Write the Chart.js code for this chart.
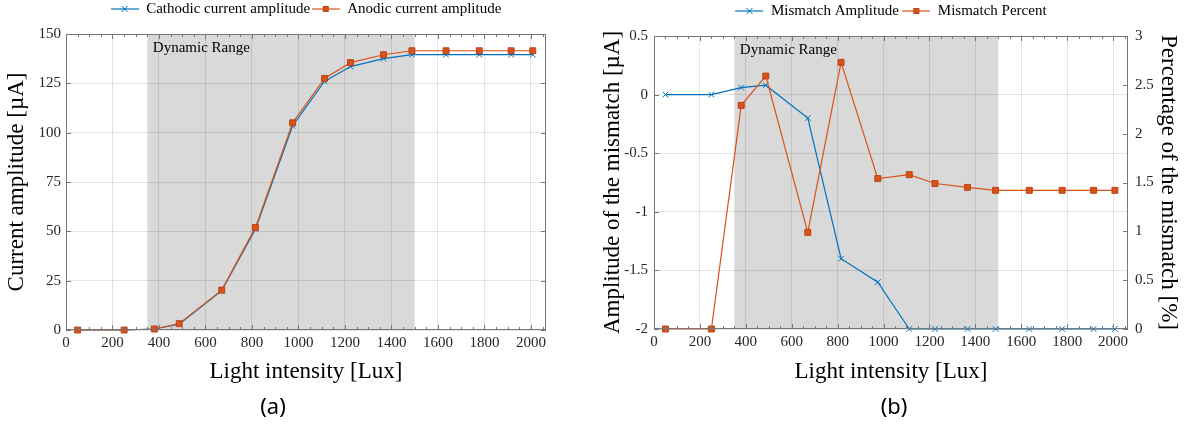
<!DOCTYPE html>
<html>
<head>
<meta charset="utf-8">
<script src="https://cdn.jsdelivr.net/npm/chart.js@4/dist/chart.umd.min.js"></script>
<style>
  html, body { margin: 0; padding: 0; background: #fff; }
  body { width: 1192px; height: 438px; position: relative; overflow: hidden; }
  canvas { position: absolute; top: 0; }
  #chartA { left: 0; }
  #chartB { left: 596px; }
</style>
</head>
<body>
<canvas id="chartA" width="596" height="438"></canvas>
<canvas id="chartB" width="596" height="438"></canvas>
<script>
// light intensity of each measurement [Lux]
const luxValues = [50, 250, 380, 487, 670, 815, 975, 1112, 1224, 1366, 1488, 1635, 1778, 1915, 2008];
// (a) current amplitudes [uA]
const cathodicAmp = [0, 0, 0.5, 3, 20, 51, 103.5, 126, 133.5, 137.5, 139.5, 139.5, 139.5, 139.5, 139.5];
const anodicAmp = [0, 0, 0.5, 3.2, 20.2, 52, 105, 127.5, 135.5, 139.5, 141.5, 141.5, 141.5, 141.5, 141.5];
// (b) mismatch between the two
const mismatchAmp = [0, 0, 0.06, 0.08, -0.2, -1.4, -1.6, -2, -2, -2, -2, -2, -2, -2, -2];
const mismatchPct = [0, 0, 2.29, 2.59, 0.99, 2.73, 1.54, 1.58, 1.49, 1.45, 1.42, 1.42, 1.42, 1.42, 1.42];
// shaded "Dynamic Range" band [Lux]
const dynamicRange = [350, 1500];
// x axis tick values
const xTicks = [0, 200, 400, 600, 800, 1000, 1200, 1400, 1600, 1800, 2000];

const BLUE = '#0072BD';
const ORANGE = '#D95319';
const SERIF = '"Liberation Serif", "Times New Roman", serif';
const GRID = 'rgba(0,0,0,0.1)';
const TEXT = '#262626';

const toPoints = (ys) => luxValues.map((x, i) => ({x, y: ys[i]}));
const numLabel = (v) => String(+v.toFixed(2));

// small line+marker picture used as legend symbol
function legendIcon(color, marker) {
  const c = document.createElement('canvas');
  c.width = 28; c.height = 12;
  const g = c.getContext('2d');
  g.strokeStyle = color; g.lineWidth = 1.2;
  g.beginPath(); g.moveTo(0, 6); g.lineTo(28, 6); g.stroke();
  if (marker === 'rect') {
    g.fillStyle = color; g.fillRect(11, 3, 6, 6);
    g.strokeStyle = '#B8441A'; g.lineWidth = 1; g.strokeRect(11.5, 3.5, 5, 5);
  } else {
    g.lineWidth = 1;
    g.beginPath(); g.moveTo(11, 3); g.lineTo(17, 9); g.moveTo(17, 3); g.lineTo(11, 9); g.stroke();
  }
  return c;
}
const icons = {blue: legendIcon(BLUE, 'cross'), orange: legendIcon(ORANGE, 'rect')};

const blueSeries = (label, ys, axis) => ({
  label, data: toPoints(ys), yAxisID: axis, icon: icons.blue,
  borderColor: BLUE, backgroundColor: BLUE, borderWidth: 1.2,
  pointStyle: 'crossRot', pointRadius: 4, pointBorderWidth: 1, pointBorderColor: BLUE,
  tension: 0, clip: false, order: 2
});
const orangeSeries = (label, ys, axis) => ({
  label, data: toPoints(ys), yAxisID: axis, icon: icons.orange,
  borderColor: ORANGE, backgroundColor: ORANGE, borderWidth: 1.2,
  pointStyle: 'rect', pointRadius: 4.2, pointBorderWidth: 1,
  pointBackgroundColor: ORANGE, pointBorderColor: '#B8441A',
  tension: 0, clip: false, order: 1
});

// gray band, its label, the axes box and MATLAB style inward ticks
const matlabFrame = {
  id: 'matlabFrame',
  beforeDraw(chart) {
    const {ctx, chartArea: a, scales: {x}} = chart;
    const x0 = x.getPixelForValue(dynamicRange[0]);
    const x1 = x.getPixelForValue(dynamicRange[1]);
    ctx.save();
    ctx.fillStyle = '#d9d9d9';
    ctx.fillRect(x0, a.top, x1 - x0, a.bottom - a.top);
    ctx.restore();
  },
  beforeDatasetsDraw(chart) {
    const {ctx, chartArea: a, scales: {x}} = chart;
    ctx.save();
    ctx.fillStyle = '#000';
    ctx.font = '15px ' + SERIF;
    ctx.textBaseline = 'middle';
    ctx.fillText('Dynamic Range', x.getPixelForValue(dynamicRange[0]) + 5.5, a.top + 14);
    ctx.restore();
  },
  afterDraw(chart, args, opts) {
    const {ctx, chartArea: a, scales} = chart;
    ctx.save();
    ctx.strokeStyle = '#777';
    ctx.lineWidth = 1;
    ctx.strokeRect(Math.round(a.left) + 0.5, Math.round(a.top) + 0.5,
      Math.round(a.right - a.left) - 1, Math.round(a.bottom - a.top) - 1);
    ctx.beginPath();
    const x = scales.x;
    for (let v = 0; v <= x.max; v += 50) {
      const px = Math.round(x.getPixelForValue(v)) + 0.5;
      const len = v % 200 === 0 ? 5 : 3;
      ctx.moveTo(px, a.bottom); ctx.lineTo(px, a.bottom - len);
      ctx.moveTo(px, a.top); ctx.lineTo(px, a.top + len);
    }
    for (const [id, side] of opts.ySides) {
      const s = scales[id];
      for (const t of s.ticks) {
        const py = Math.round(s.getPixelForValue(t.value)) + 0.5;
        if (side === 'left') { ctx.moveTo(a.left, py); ctx.lineTo(a.left + 5, py); }
        else { ctx.moveTo(a.right, py); ctx.lineTo(a.right - 5, py); }
      }
    }
    ctx.stroke();
    ctx.restore();
  }
};

function xAxis(axisHeight) {
  return {
    type: 'linear', min: 0, max: 2065,
    afterBuildTicks: (s) => { s.ticks = xTicks.map(value => ({value})); },
    afterFit: (s) => { s.height = axisHeight; },
    ticks: {autoSkip: false, maxRotation: 0, padding: 4, color: TEXT, callback: numLabel,
      font: {family: SERIF, size: 15}},
    grid: {color: GRID, drawTicks: false},
    border: {display: false},
    title: {display: true, text: 'Light intensity [Lux]', color: '#000',
      font: {family: SERIF, size: 23}, padding: {top: 0, bottom: 9}}
  };
}

function yAxis(opts) {
  return {
    type: 'linear', position: opts.position, min: opts.min, max: opts.max,
    afterFit: (s) => { s.width = opts.width; },
    ticks: {stepSize: opts.step, padding: opts.tickPad, color: TEXT, callback: numLabel,
      font: {family: SERIF, size: 15}},
    grid: {color: GRID, drawTicks: false, drawOnChartArea: opts.grid},
    border: {display: false},
    title: {display: true, text: opts.title, color: '#000',
      font: {family: SERIF, size: 23}, padding: {top: opts.titlePad, bottom: 0}}
  };
}

function commonPlugins(panel, legendPad, ySides) {
  return {
    legend: {
      position: 'top', fullSize: false,
      labels: {
        usePointStyle: true, pointStyleWidth: 28, padding: legendPad, color: '#000',
        font: {family: SERIF, size: 15},
        sort: (a, b) => a.datasetIndex - b.datasetIndex,
        generateLabels: (chart) => Chart.defaults.plugins.legend.labels.generateLabels(chart)
          .map(item => ({...item, pointStyle: chart.data.datasets[item.datasetIndex].icon}))
      }
    },
    subtitle: {display: true, position: 'top', text: ' ', weight: 500,
      font: {size: 1}, padding: {top: 0, bottom: 6.3}},
    title: {display: true, position: 'bottom', text: panel, color: '#000',
      font: {family: '"Noto Sans", sans-serif', size: 22, weight: 'normal'},
      padding: {top: 0, bottom: 16.8}},
    tooltip: {enabled: false},
    matlabFrame: {ySides}
  };
}

new Chart(document.getElementById('chartA'), {
  type: 'line',
  data: {
    datasets: [
      blueSeries('Cathodic current amplitude', cathodicAmp, 'y'),
      orangeSeries('Anodic current amplitude', anodicAmp, 'y')
    ]
  },
  options: {
    responsive: false, animation: false, events: [],
    layout: {padding: {left: 0, right: 50, top: 0, bottom: 0}},
    scales: {
      x: xAxis(64.8),
      y: yAxis({position: 'left', min: 0, max: 150, step: 25, width: 66, tickPad: 5,
        grid: true, title: 'Current amplitude [µA]', titlePad: 3})
    },
    plugins: commonPlugins('(a)', 1.5, [['y', 'left'], ['y', 'right']])
  },
  plugins: [matlabFrame]
});

new Chart(document.getElementById('chartB'), {
  type: 'line',
  data: {
    datasets: [
      blueSeries('Mismatch Amplitude', mismatchAmp, 'y'),
      orangeSeries('Mismatch Percent', mismatchPct, 'y1')
    ]
  },
  options: {
    responsive: false, animation: false, events: [],
    layout: {padding: {left: 0, right: 0, top: 0, bottom: 0}},
    scales: {
      x: xAxis(65.8),
      y: yAxis({position: 'left', min: -2, max: 0.5, step: 0.5, width: 58, tickPad: 6,
        grid: true, title: 'Amplitude of the mismatch [µA]', titlePad: 3}),
      y1: yAxis({position: 'right', min: 0, max: 3, step: 0.5, width: 64, tickPad: 7,
        grid: false, title: 'Percentage of the mismatch [%]', titlePad: 10})
    },
    plugins: commonPlugins('(b)', 3.5, [['y', 'left'], ['y1', 'right']])
  },
  plugins: [matlabFrame]
});
</script>
</body>
</html>
